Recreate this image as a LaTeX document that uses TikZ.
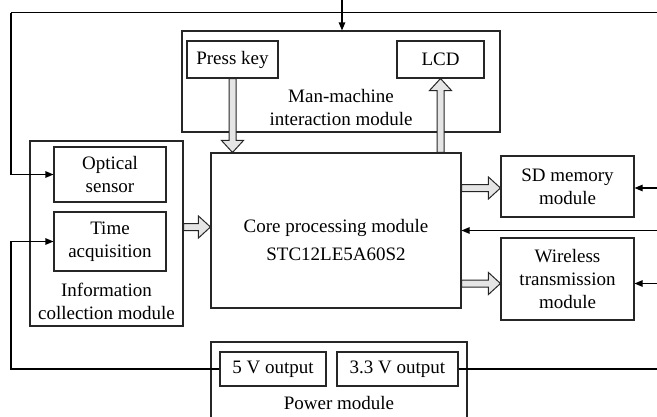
\documentclass[tikz,border=0pt]{standalone}
\usepackage{fontspec}
\setmainfont{Liberation Serif}
\usetikzlibrary{calc,arrows.meta}
\newcommand\hollowarrow[2]{%
  \coordinate (ha) at (#1);
  \coordinate (hb) at (#2);
  \coordinate (hh) at ($(hb)!12pt!(ha)$);
  \filldraw[hollowstyle] ($(ha)!3.5pt!90:(hb)$) -- ($(hh)!3.5pt!90:(hb)$) -- ($(hh)!11pt!90:(hb)$) -- (hb) -- ($(hh)!11pt!-90:(hb)$) -- ($(hh)!3.5pt!-90:(hb)$) -- ($(ha)!3.5pt!-90:(hb)$) -- cycle;}
\tikzset{
  box/.style={draw=black!85, line width=1.1pt, inner sep=0pt, align=center, font=\fontsize{19}{23}\selectfont},
  txt/.style={inner sep=0pt, align=center, font=\fontsize{19}{23}\selectfont},
  conn/.style={draw=black, line width=1.1pt, -{Triangle[length=8pt,width=6.5pt]}},
  wire/.style={draw=black, line width=1.1pt},
  hollowstyle/.style={fill=black!10, draw=black!85, line width=1pt, line join=miter},
}
\begin{document}
\begin{tikzpicture}[x=1pt,y=-1pt]
\useasboundingbox (0,0) rectangle (657,416);
% man-machine module
\node[box, minimum width=318pt, minimum height=101pt] (mm) at (341,81.5) {};
\node[box, minimum width=91pt, minimum height=37pt] (press) at (232.5,59.5) {Press key};
\node[box, minimum width=87pt, minimum height=37pt] (lcd) at (440.5,59.5) {LCD};
\node[txt] (mmtext) at (341,107) {Man-machine\\interaction module};
% information collection module
\node[box, minimum width=153pt, minimum height=185pt] (info) at (106.5,233.5) {};
\node[box, minimum width=112pt, minimum height=55pt] (optical) at (110,174.5) {Optical\\sensor};
\node[box, minimum width=112pt, minimum height=59pt] (time) at (110,241.5) {Time\\acquisition};
\node[txt] (infotext) at (106.5,301) {Information\\collection module};
% core
\node[box, minimum width=250pt, minimum height=155pt] (core) at (336,230.5) {};
\node[txt] (coretext) at (336,239.5) {Core processing module\\[5pt]STC12LE5A60S2};
% right modules
\node[box, minimum width=133pt, minimum height=61pt] (sd) at (567.5,186.5) {SD memory\\module};
\node[box, minimum width=133pt, minimum height=82pt] (wl) at (567.5,279) {Wireless\\transmission\\module};
% power module
\node[box, minimum width=256pt, minimum height=77pt] (power) at (339,380.5) {};
\node[box, minimum width=106pt, minimum height=34pt] (v5) at (273,369) {5 V output};
\node[box, minimum width=121pt, minimum height=34pt] (v33) at (397.5,369) {3.3 V output};
\node[txt] (powertext) at (339,403) {Power module};
% helper coordinates
\coordinate (tin) at (342,0);
\coordinate (tl) at (11,12.7);
\coordinate (tr) at (657,12.7);
\coordinate (bl) at (11,369);
\coordinate (br) at (657,369);
\coordinate (yinfo) at (0,227);
\coordinate (ysd) at (0,188);
\coordinate (ywl) at (0,283.5);
\coordinate (rsd) at (657,188);
\coordinate (rcore) at (657,230.5);
\coordinate (rwl) at (657,283.5);
% thin connectors
\draw[wire] (tl) -- (tr);
\draw[conn] (tin) -- (tin |- mm.north);
\draw[conn] (tl) -- (tl |- optical.west) -- (optical.west);
\draw[conn] (v5.west) -- (bl) -- (bl |- time.west) -- (time.west);
\draw[wire] (v33.east) -- (br);
\draw[conn] (rsd) -- (sd.east |- rsd);
\draw[conn] (rcore) -- (core.east);
\draw[conn] (rwl) -- (wl.east |- rwl);
% hollow arrows
\hollowarrow{press.south}{press.south |- core.north}
\hollowarrow{lcd.south |- core.north}{lcd.south}
\hollowarrow{info.east |- yinfo}{core.west |- yinfo}
\hollowarrow{core.east |- ysd}{sd.west |- ysd}
\hollowarrow{core.east |- ywl}{wl.west |- ywl}
\end{tikzpicture}
\end{document}
